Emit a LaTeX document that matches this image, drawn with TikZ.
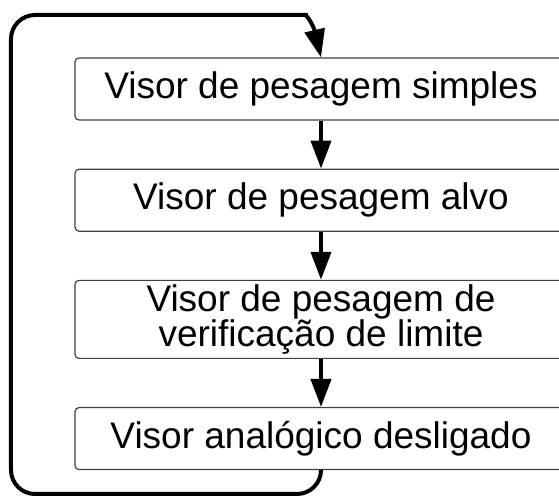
\documentclass[tikz,border=0pt]{standalone}
\usepackage{fontspec}
\setmainfont{Liberation Sans}
\usetikzlibrary{positioning, arrows.meta, bending}

\begin{document}
\begin{tikzpicture}[
                x=0.5pt, y=-0.5pt,
                node distance=24pt,
                viewbox/.style={rectangle, draw=black!75, line width=0.6pt, rounded corners=2pt, minimum width=246pt, minimum height=31pt, inner sep=0pt, align=center, font=\fontsize{18.5pt}{17.5pt}\selectfont},
                flow/.style={-{Triangle[length=14pt, width=10pt]}, line width=2pt}
            ]
                \useasboundingbox (0,0) rectangle (559,496);

                % --- DISPLAY MODES ---
                \node[viewbox] (simples) at (321,89) {Visor de pesagem simples};
                \node[viewbox, below=of simples] (alvo) {Visor de pesagem alvo};
                \node[viewbox, below=of alvo, minimum height=39pt] (limite) {Visor de pesagem de\\verificação de limite};
                \node[viewbox, below=of limite] (analogico) {Visor analógico desligado};

                % Arrows between modes
                \draw[flow] (simples) -- (alvo);
                \draw[flow] (alvo) -- (limite);
                \draw[flow] (limite) -- (analogico);

                % Back to the first mode
                \draw[flow] (analogico.south) [rounded corners=12pt] -- (analogico.south |- 0,494) -- (11,494) -- (11,15) -- (282,15)
                    [sharp corners] .. controls (304,15) and (316,20) .. (simples.north);

                \end{tikzpicture}
\end{document}
